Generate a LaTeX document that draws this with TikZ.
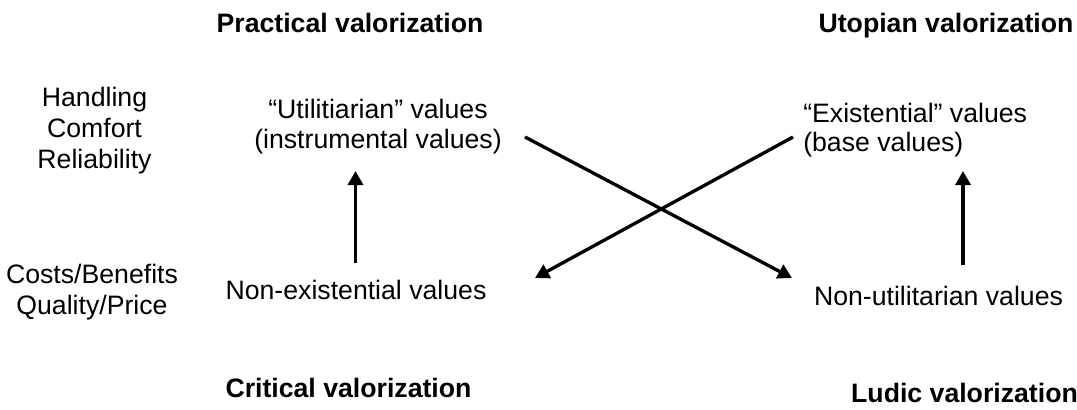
\documentclass[tikz,border=0pt]{standalone}
\usepackage{fontspec}
\setmainfont{Liberation Sans}
\usetikzlibrary{arrows.meta}

\tikzset{
    txt/.style={align=center,inner sep=0pt,font=\fontsize{20}{22}\selectfont},
    note/.style={align=center,inner sep=0pt,font=\fontsize{20}{23.25}\selectfont},
    ttl/.style={inner sep=0pt,anchor=base,font=\fontsize{20}{22}\selectfont\bfseries},
    arr/.style={line width=2.5pt,-{Triangle[length=10.5pt,width=11.25pt]}}
}

\begin{document}
\begin{tikzpicture}[x=0.75pt,y=-0.75pt]
    \useasboundingbox (0,0) rectangle (1077,410);
    % titles
    \node[ttl] (prac) at (350,33) {Practical valorization};
    \node[ttl] (utop) at (946,33) {Utopian valorization};
    \node[ttl] (crit) at (348.5,397) {Critical valorization};
    \node[ttl] (ludi) at (964.5,402) {Ludic valorization};
    % side notes
    \node[note] (handle) at (94.5,131) {Handling\\Comfort\\Reliability};
    \node[note] (costs) at (92,292.5) {Costs/Benefits\\Quality/Price};
    % values
    \node[txt] (util) at (378,126.5) {``Utilitiarian'' values\\(instrumental values)};
    \node[txt,align=left,anchor=west] (exist) at (803,130) {``Existential'' values\\(base values)};
    \node[txt,anchor=base] (nonex) at (356,299) {Non-existential values};
    \node[txt,anchor=base] (nonut) at (938.5,305) {Non-utilitarian values};
    % arrow ends
    \coordinate (a1) at (355.5,263);
    \coordinate (a2) at (355.5,171);
    \coordinate (b1) at (963,265);
    \coordinate (b2) at (963,171);
    \coordinate (c1) at (525,137);
    \coordinate (c2) at (792,278);
    \coordinate (d1) at (793,137);
    \coordinate (d2) at (535,278);
    \draw[arr] (a1) -- (a2);
    \draw[arr] (b1) -- (b2);
    \draw[arr] (c1) -- (c2);
    \draw[arr] (d1) -- (d2);
\end{tikzpicture}
\end{document}
